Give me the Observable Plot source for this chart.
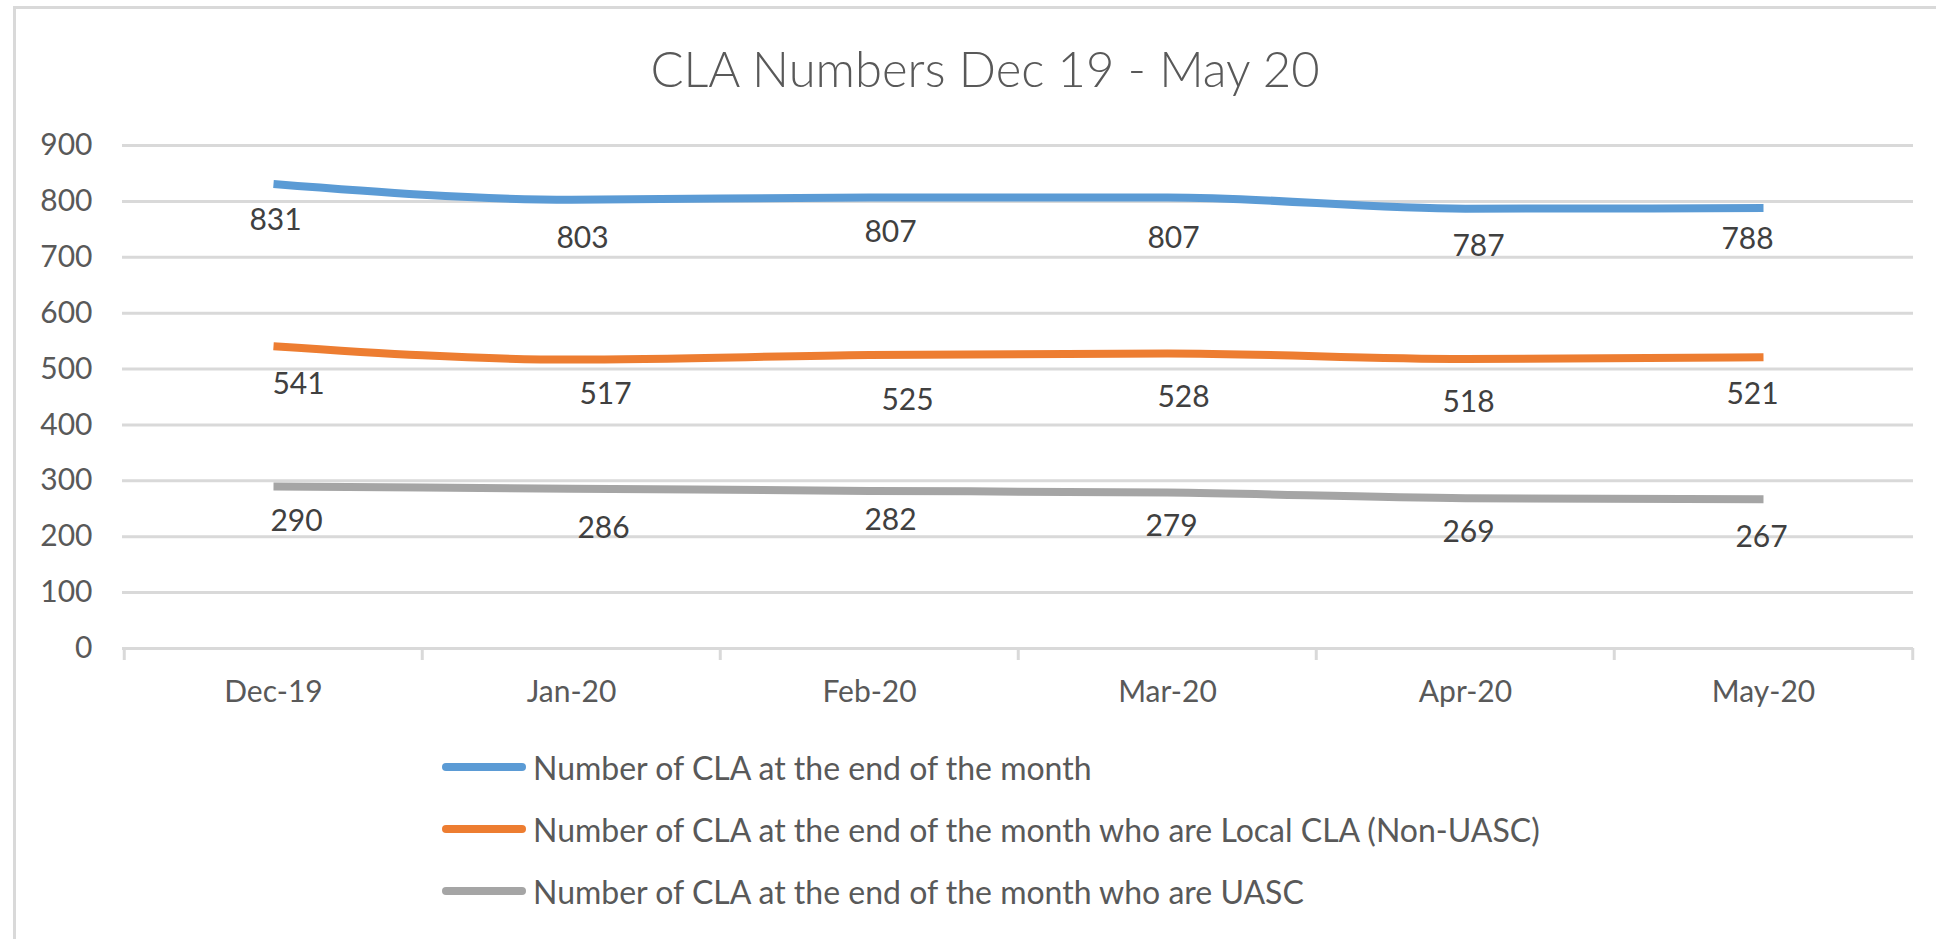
<!DOCTYPE html>
<html><head><meta charset="utf-8">
<script src="https://cdn.jsdelivr.net/npm/d3@7"></script>
<script src="https://cdn.jsdelivr.net/npm/@observablehq/plot@0.6"></script>
<style>
body{margin:0;background:#fff;font-family:Lato,sans-serif;}
#wrap{position:relative;width:1936px;height:939px;overflow:hidden;}
#frame{position:absolute;left:13px;top:6px;width:2000px;height:1000px;border:3px solid #d9d9d9;box-sizing:border-box;pointer-events:none;}
#title{box-sizing:border-box;height:110px;padding-top:44px;padding-left:34px;text-align:center;font-size:49px;line-height:49px;font-weight:300;color:#595959;white-space:nowrap;}
#chart svg{display:block;}
#legend{padding-top:6px;}
.row{display:flex;align-items:center;height:62px;}
.sw{margin-left:442px;width:84px;height:8px;border-radius:4px;margin-right:7px;flex:none;}
.lab{font-size:32px;color:#595959;white-space:nowrap;}
</style></head>
<body><div id="wrap"><div id="frame"></div><div id="title">CLA Numbers Dec 19 - May 20</div><div id="chart"></div><div id="legend"></div></div>
<script>
// ---- data ----
const months = ["Dec-19", "Jan-20", "Feb-20", "Mar-20", "Apr-20", "May-20"];
const seriesNames = [
  "Number of CLA at the end of the month",
  "Number of CLA at the end of the month who are Local CLA (Non-UASC)",
  "Number of CLA at the end of the month who are UASC"
];
const totalCLA = [831, 803, 807, 807, 787, 788];
const localCLA = [541, 517, 525, 528, 518, 521];
const uascCLA  = [290, 286, 282, 279, 269, 267];
const yTicks = [0, 100, 200, 300, 400, 500, 600, 700, 800, 900];

// ---- styling / layout (kept separate from data) ----
const seriesColors = ["#5b9bd5", "#ed7d31", "#a5a5a5"];
// data label nudges [dx, dy] in pixels, one per point, as placed in the original
const labelNudges = [
  [[2, 36], [11, 39], [21, 35], [6, 41], [13, 38], [-16, 31]],
  [[25, 38], [34, 35], [38, 45], [16, 44], [3, 43], [-11, 37]],
  [[23, 35], [32, 40], [21, 29], [4, 34], [3, 34], [-2, 38]]
];

const seriesValues = [totalCLA, localCLA, uascCLA];
const rows = [];
seriesValues.forEach((vals, s) => vals.forEach((v, i) => rows.push({
  month: months[i], series: seriesNames[s], value: v, s, i
})));

const W = 1936, H = 620, mL = 122, mR = 23, mT = 35, mB = 82;
const bw = (W - mL - mR) / months.length;

const plot = Plot.plot({
  width: W, height: H,
  marginLeft: mL, marginRight: mR, marginTop: mT, marginBottom: mB,
  style: {background: "transparent", fontFamily: "Lato, sans-serif"},
  x: {type: "band", domain: months, padding: 0, axis: null},
  y: {domain: [0, 900], axis: null},
  color: {domain: seriesNames, range: seriesColors},
  marks: [
    Plot.gridY(yTicks, {stroke: "#d9d9d9", strokeWidth: 3, strokeOpacity: 1}),
    Plot.ruleX(months, {x: d => d, y1: 0, y2: 0, dx: -bw / 2, insetBottom: -12, stroke: "#d9d9d9", strokeWidth: 3}),
    Plot.ruleX(months.slice(-1), {x: d => d, y1: 0, y2: 0, dx: bw / 2, insetBottom: -12, stroke: "#d9d9d9", strokeWidth: 3}),
    Plot.axisY(yTicks, {tickSize: 0, tickPadding: 30, fontSize: 30, color: "#595959", label: null}),
    Plot.axisX(months, {tickSize: 0, tickPadding: 32, fontSize: 30, color: "#595959", label: null}),
    Plot.line(rows, {x: "month", y: "value", z: "series", stroke: "series", strokeWidth: 8, curve: "monotone-x", strokeLinecap: "butt"}),
    ...rows.map(r => Plot.text([r], {
      x: "month", y: "value", text: d => String(d.value),
      dx: labelNudges[r.s][r.i][0], dy: labelNudges[r.s][r.i][1],
      fontSize: 30, fill: "#404040"
    }))
  ]
});
document.getElementById("chart").appendChild(plot);

const legend = document.getElementById("legend");
seriesNames.forEach((name, k) => {
  const row = document.createElement("div");
  row.className = "row";
  const sw = document.createElement("div");
  sw.className = "sw";
  sw.style.background = seriesColors[k];
  const lab = document.createElement("div");
  lab.className = "lab";
  lab.textContent = name;
  row.appendChild(sw); row.appendChild(lab);
  legend.appendChild(row);
});
</script>
</body></html>
